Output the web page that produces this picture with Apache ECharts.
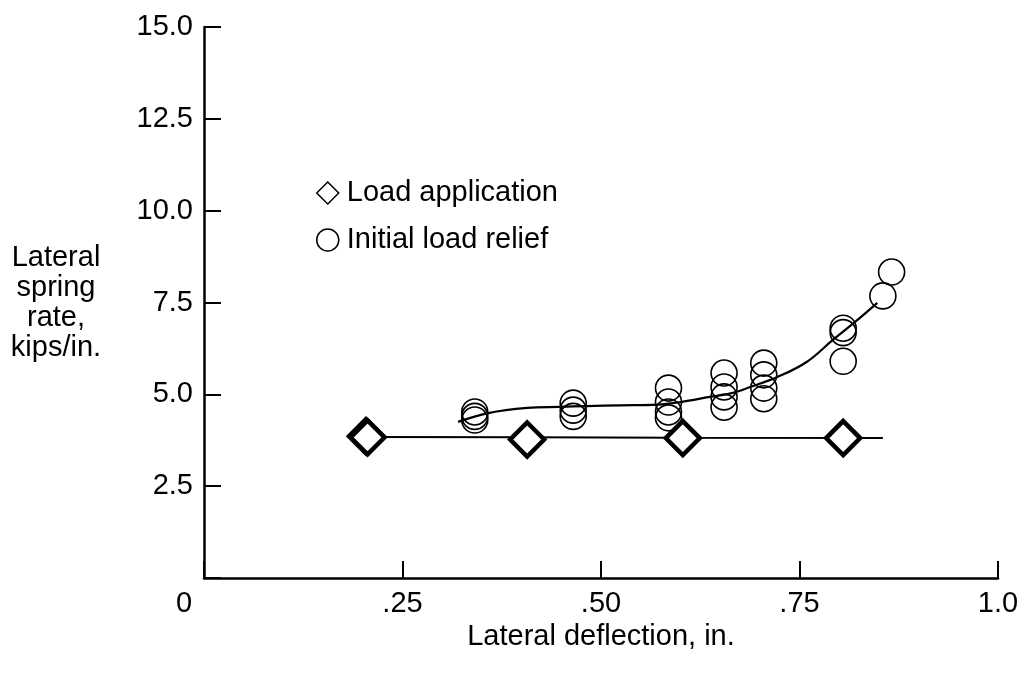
<!DOCTYPE html>
<html>
<head>
<meta charset="utf-8">
<title>Lateral spring rate</title>
<script src="https://cdn.jsdelivr.net/npm/echarts@6/dist/echarts.min.js"></script>
<style>
  html, body { margin: 0; padding: 0; background: #fff; }
  #chart { width: 1028px; height: 675px; }
</style>
</head>
<body>
<div id="chart"></div>
<script>
// tick labels
var xTickLabels = ['0', '.25', '.50', '.75', '1.0'];
var yTickLabels = ['', '2.5', '5.0', '7.5', '10.0', '12.5', '15.0'];

// load application (diamonds), first point plotted twice in the original
var loadApplication = [
    [0.204, 3.86], [0.206, 3.83],
    [0.407, 3.77],
    [0.603, 3.81],
    [0.805, 3.81]
];
var loadApplicationFit = [[0.205, 3.84], [0.41, 3.83], [0.60, 3.82], [0.855, 3.81]];

// initial load relief (circles)
var loadRelief = [
    [0.341, 4.52], [0.341, 4.40], [0.341, 4.30],
    [0.465, 4.76], [0.465, 4.57], [0.465, 4.40],
    [0.585, 5.17], [0.585, 4.79], [0.585, 4.52], [0.585, 4.36],
    [0.655, 5.58], [0.655, 5.20], [0.655, 4.93], [0.655, 4.65],
    [0.705, 5.85], [0.705, 5.53], [0.705, 5.17], [0.705, 4.88],
    [0.805, 6.80], [0.805, 6.68], [0.805, 5.90],
    [0.855, 7.68],
    [0.866, 8.33]
];
var loadReliefFit = [
    [0.32, 4.25], [0.358, 4.49], [0.407, 4.63], [0.448, 4.66], [0.482, 4.68],
    [0.524, 4.70], [0.571, 4.72], [0.60, 4.79], [0.637, 4.93], [0.666, 5.04],
    [0.688, 5.20], [0.722, 5.47], [0.759, 5.88], [0.792, 6.48], [0.82, 6.97],
    [0.848, 7.49]
];

var myChart = echarts.init(document.getElementById('chart'));
var font = 'Liberation Sans, Arial, Helvetica, sans-serif';
var fs = 29;

option = {
    backgroundColor: '#fff',
    animation: false,
    textStyle: { fontFamily: font, color: '#000' },
    grid: { left: 204, right: 30, top: 27, bottom: 97 },
    legend: {
        orient: 'vertical',
        left: 311,
        top: 172,
        itemWidth: 22,
        itemHeight: 22,
        itemGap: 15,
        textStyle: { fontSize: fs, color: '#000', fontFamily: font, lineHeight: 32, padding: [0, 0, 0, 3] },
        data: [
            { name: 'Load application', icon: 'diamond',
              itemStyle: { color: '#fff', borderColor: '#000', borderWidth: 1.5 } },
            { name: 'Initial load relief', icon: 'circle',
              itemStyle: { color: '#fff', borderColor: '#000', borderWidth: 1.5 } }
        ]
    },
    xAxis: {
        type: 'value',
        min: 0,
        max: 1,
        interval: 0.25,
        splitLine: { show: false },
        axisLine: { lineStyle: { color: '#000', width: 2.5 } },
        axisTick: { inside: true, length: 17, lineStyle: { color: '#000', width: 2 } },
        axisLabel: {
            margin: 11,
            fontSize: fs,
            color: '#000',
            formatter: function (v) {
                var s = xTickLabels[Math.round(v / 0.25)];
                return v === 0 ? '{z|' + s + '}' : s;
            },
            rich: { z: { fontSize: fs, color: '#000', padding: [0, 40, 0, 0] } }
        },
        name: 'Lateral deflection, in.',
        nameLocation: 'middle',
        nameGap: 33,
        nameTextStyle: { fontSize: fs, color: '#000' }
    },
    yAxis: {
        type: 'value',
        min: 0,
        max: 15,
        interval: 2.5,
        splitLine: { show: false },
        axisLine: { lineStyle: { color: '#000', width: 2.5 } },
        axisTick: { inside: true, length: 17, lineStyle: { color: '#000', width: 2 } },
        axisLabel: {
            margin: 11,
            fontSize: fs,
            color: '#000',
            formatter: function (v) { return yTickLabels[Math.round(v / 2.5)]; }
        },
        name: 'Lateral\nspring\nrate,\nkips/in.',
        nameLocation: 'middle',
        nameRotate: 0,
        nameGap: 148,
        nameTextStyle: {
            fontSize: fs, color: '#000', align: 'center', verticalAlign: 'middle',
            lineHeight: 30, padding: [0, 0, 24, 0]
        }
    },
    series: [
        {
            name: 'Load application fit',
            type: 'line',
            data: loadApplicationFit,
            showSymbol: false,
            silent: true,
            z: 1,
            lineStyle: { color: '#000', width: 2 }
        },
        {
            name: 'Initial load relief fit',
            type: 'line',
            data: loadReliefFit,
            smooth: 0.4,
            showSymbol: false,
            silent: true,
            z: 1,
            lineStyle: { color: '#000', width: 2.2 }
        },
        {
            name: 'Load application',
            type: 'scatter',
            data: loadApplication,
            symbol: 'diamond',
            symbolSize: 34,
            z: 3,
            itemStyle: { color: '#fff', borderColor: '#000', borderWidth: 4.5, opacity: 1 }
        },
        {
            name: 'Initial load relief',
            type: 'scatter',
            data: loadRelief,
            symbol: 'circle',
            symbolSize: 26,
            z: 3,
            itemStyle: { color: 'rgba(0,0,0,0)', borderColor: '#000', borderWidth: 1.6, opacity: 1 }
        }
    ]
};

if (option && typeof option === 'object') {
    myChart.setOption(option, true);
}
</script>
</body>
</html>
